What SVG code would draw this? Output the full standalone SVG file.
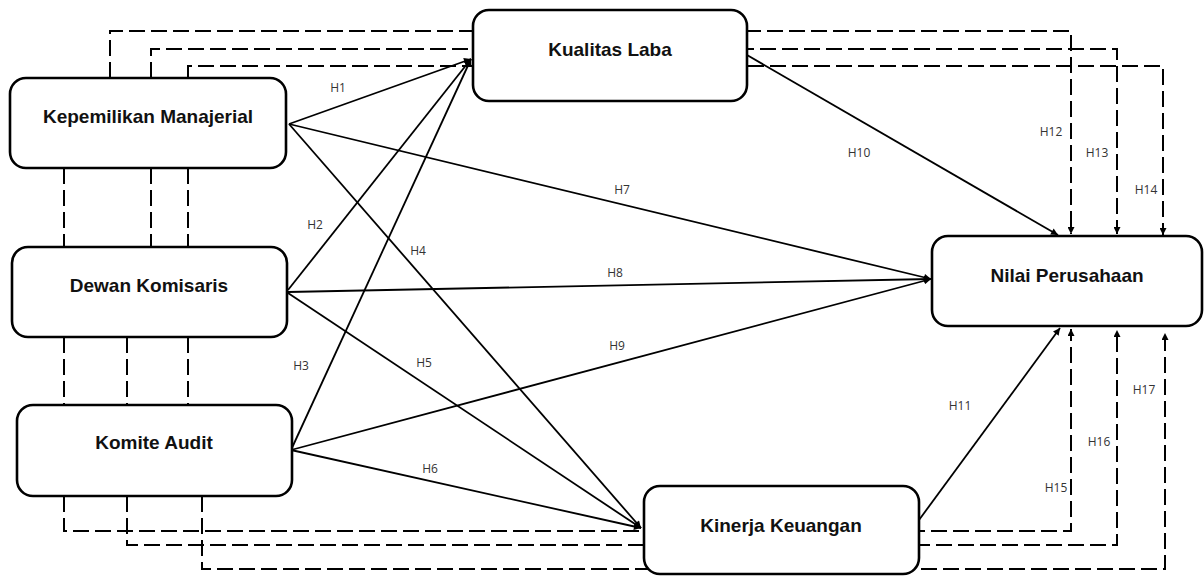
<svg xmlns="http://www.w3.org/2000/svg" width="1204" height="576" viewBox="0 0 1204 576">
<style>
.bg{fill:#ffffff}
.node{fill:#ffffff;stroke:#000;stroke-width:2.6}
.title{font-family:"Liberation Sans",Arial,sans-serif;font-weight:bold;font-size:19px;fill:#111;text-anchor:middle}
.solid{fill:none;stroke:#000;stroke-width:1.8}
.dash{fill:none;stroke:#000;stroke-width:2;stroke-dasharray:16 6}
.lbl{font-family:"Open Sans","Liberation Sans",sans-serif;font-size:12px;fill:#333;text-anchor:middle}
</style>
<defs>
<marker id="arr" viewBox="0 0 10 10" refX="10" refY="5" markerWidth="8" markerHeight="7" markerUnits="userSpaceOnUse" orient="auto">
<path d="M0,0 L10,5 L0,10 z" fill="#000" stroke="none"/>
</marker>
</defs>
<rect class="bg" x="0" y="0" width="1204" height="576"/>
<g id="connectors">
<!-- dashed paths -->
<path class="dash" d="M110,78 V31 H1071 V234" marker-end="url(#arr)"/>
<path class="dash" d="M151,78 V49 H1117 V234" marker-end="url(#arr)"/>
<path class="dash" d="M188,78 V66 H1163 V235" marker-end="url(#arr)"/>
<path class="dash" d="M64,168 V247"/>
<path class="dash" d="M151,168 V247"/>
<path class="dash" d="M188,168 V247"/>
<path class="dash" d="M64,337 V405"/>
<path class="dash" d="M127,337 V405"/>
<path class="dash" d="M188,337 V405"/>
<path class="dash" d="M64,496 V531 H1071 V329" marker-end="url(#arr)"/>
<path class="dash" d="M127,496 V545 H1117 V330" marker-end="url(#arr)"/>
<path class="dash" d="M202,496 V569 H1165 V333" marker-end="url(#arr)"/>
<!-- solid paths -->
<line class="solid" x1="289" y1="124" x2="471" y2="59" marker-end="url(#arr)"/>
<line class="solid" x1="288" y1="290" x2="471" y2="59" marker-end="url(#arr)"/>
<line class="solid" x1="291" y1="450" x2="471" y2="59" marker-end="url(#arr)"/>
<line class="solid" x1="289" y1="124" x2="641" y2="528" marker-end="url(#arr)"/>
<line class="solid" x1="288" y1="293" x2="641" y2="528" marker-end="url(#arr)"/>
<line class="solid" x1="291" y1="450" x2="641" y2="528" marker-end="url(#arr)"/>
<line class="solid" x1="289" y1="124" x2="931" y2="279" marker-end="url(#arr)"/>
<line class="solid" x1="288" y1="292" x2="931" y2="279" marker-end="url(#arr)"/>
<line class="solid" x1="291" y1="450" x2="931" y2="279" marker-end="url(#arr)"/>
<line class="solid" x1="747" y1="55" x2="1058" y2="235" marker-end="url(#arr)"/>
<line class="solid" x1="919" y1="520" x2="1060" y2="328" marker-end="url(#arr)"/>
<!-- labels -->
<text class="lbl" x="338" y="92">H1</text>
<text class="lbl" x="315" y="229">H2</text>
<text class="lbl" x="301" y="370">H3</text>
<text class="lbl" x="418" y="255">H4</text>
<text class="lbl" x="424" y="367">H5</text>
<text class="lbl" x="430" y="473">H6</text>
<text class="lbl" x="622" y="194">H7</text>
<text class="lbl" x="615" y="277">H8</text>
<text class="lbl" x="617" y="350">H9</text>
<text class="lbl" x="859" y="157">H10</text>
<text class="lbl" x="960" y="410">H11</text>
<text class="lbl" x="1051" y="136">H12</text>
<text class="lbl" x="1097" y="157">H13</text>
<text class="lbl" x="1146" y="194">H14</text>
<text class="lbl" x="1056" y="492">H15</text>
<text class="lbl" x="1099" y="446">H16</text>
<text class="lbl" x="1144" y="394">H17</text>
</g>
<g id="node-kepemilikan">
<rect class="node" x="10" y="78" width="276" height="90" rx="16"/>
<text class="title" x="148" y="123">Kepemilikan Manajerial</text>
</g>
<g id="node-dewan">
<rect class="node" x="12" y="247" width="275" height="90" rx="16"/>
<text class="title" x="149" y="292">Dewan Komisaris</text>
</g>
<g id="node-komite">
<rect class="node" x="17" y="405" width="275" height="91" rx="16"/>
<text class="title" x="154" y="449">Komite Audit</text>
</g>
<g id="node-kualitas">
<rect class="node" x="473" y="10" width="274" height="91" rx="16"/>
<text class="title" x="610" y="56">Kualitas Laba</text>
</g>
<g id="node-kinerja">
<rect class="node" x="644" y="486" width="275" height="88" rx="16"/>
<text class="title" x="781" y="532">Kinerja Keuangan</text>
</g>
<g id="node-nilai">
<rect class="node" x="932" y="236" width="270" height="90" rx="16"/>
<text class="title" x="1067" y="282">Nilai Perusahaan</text>
</g>
</svg>
